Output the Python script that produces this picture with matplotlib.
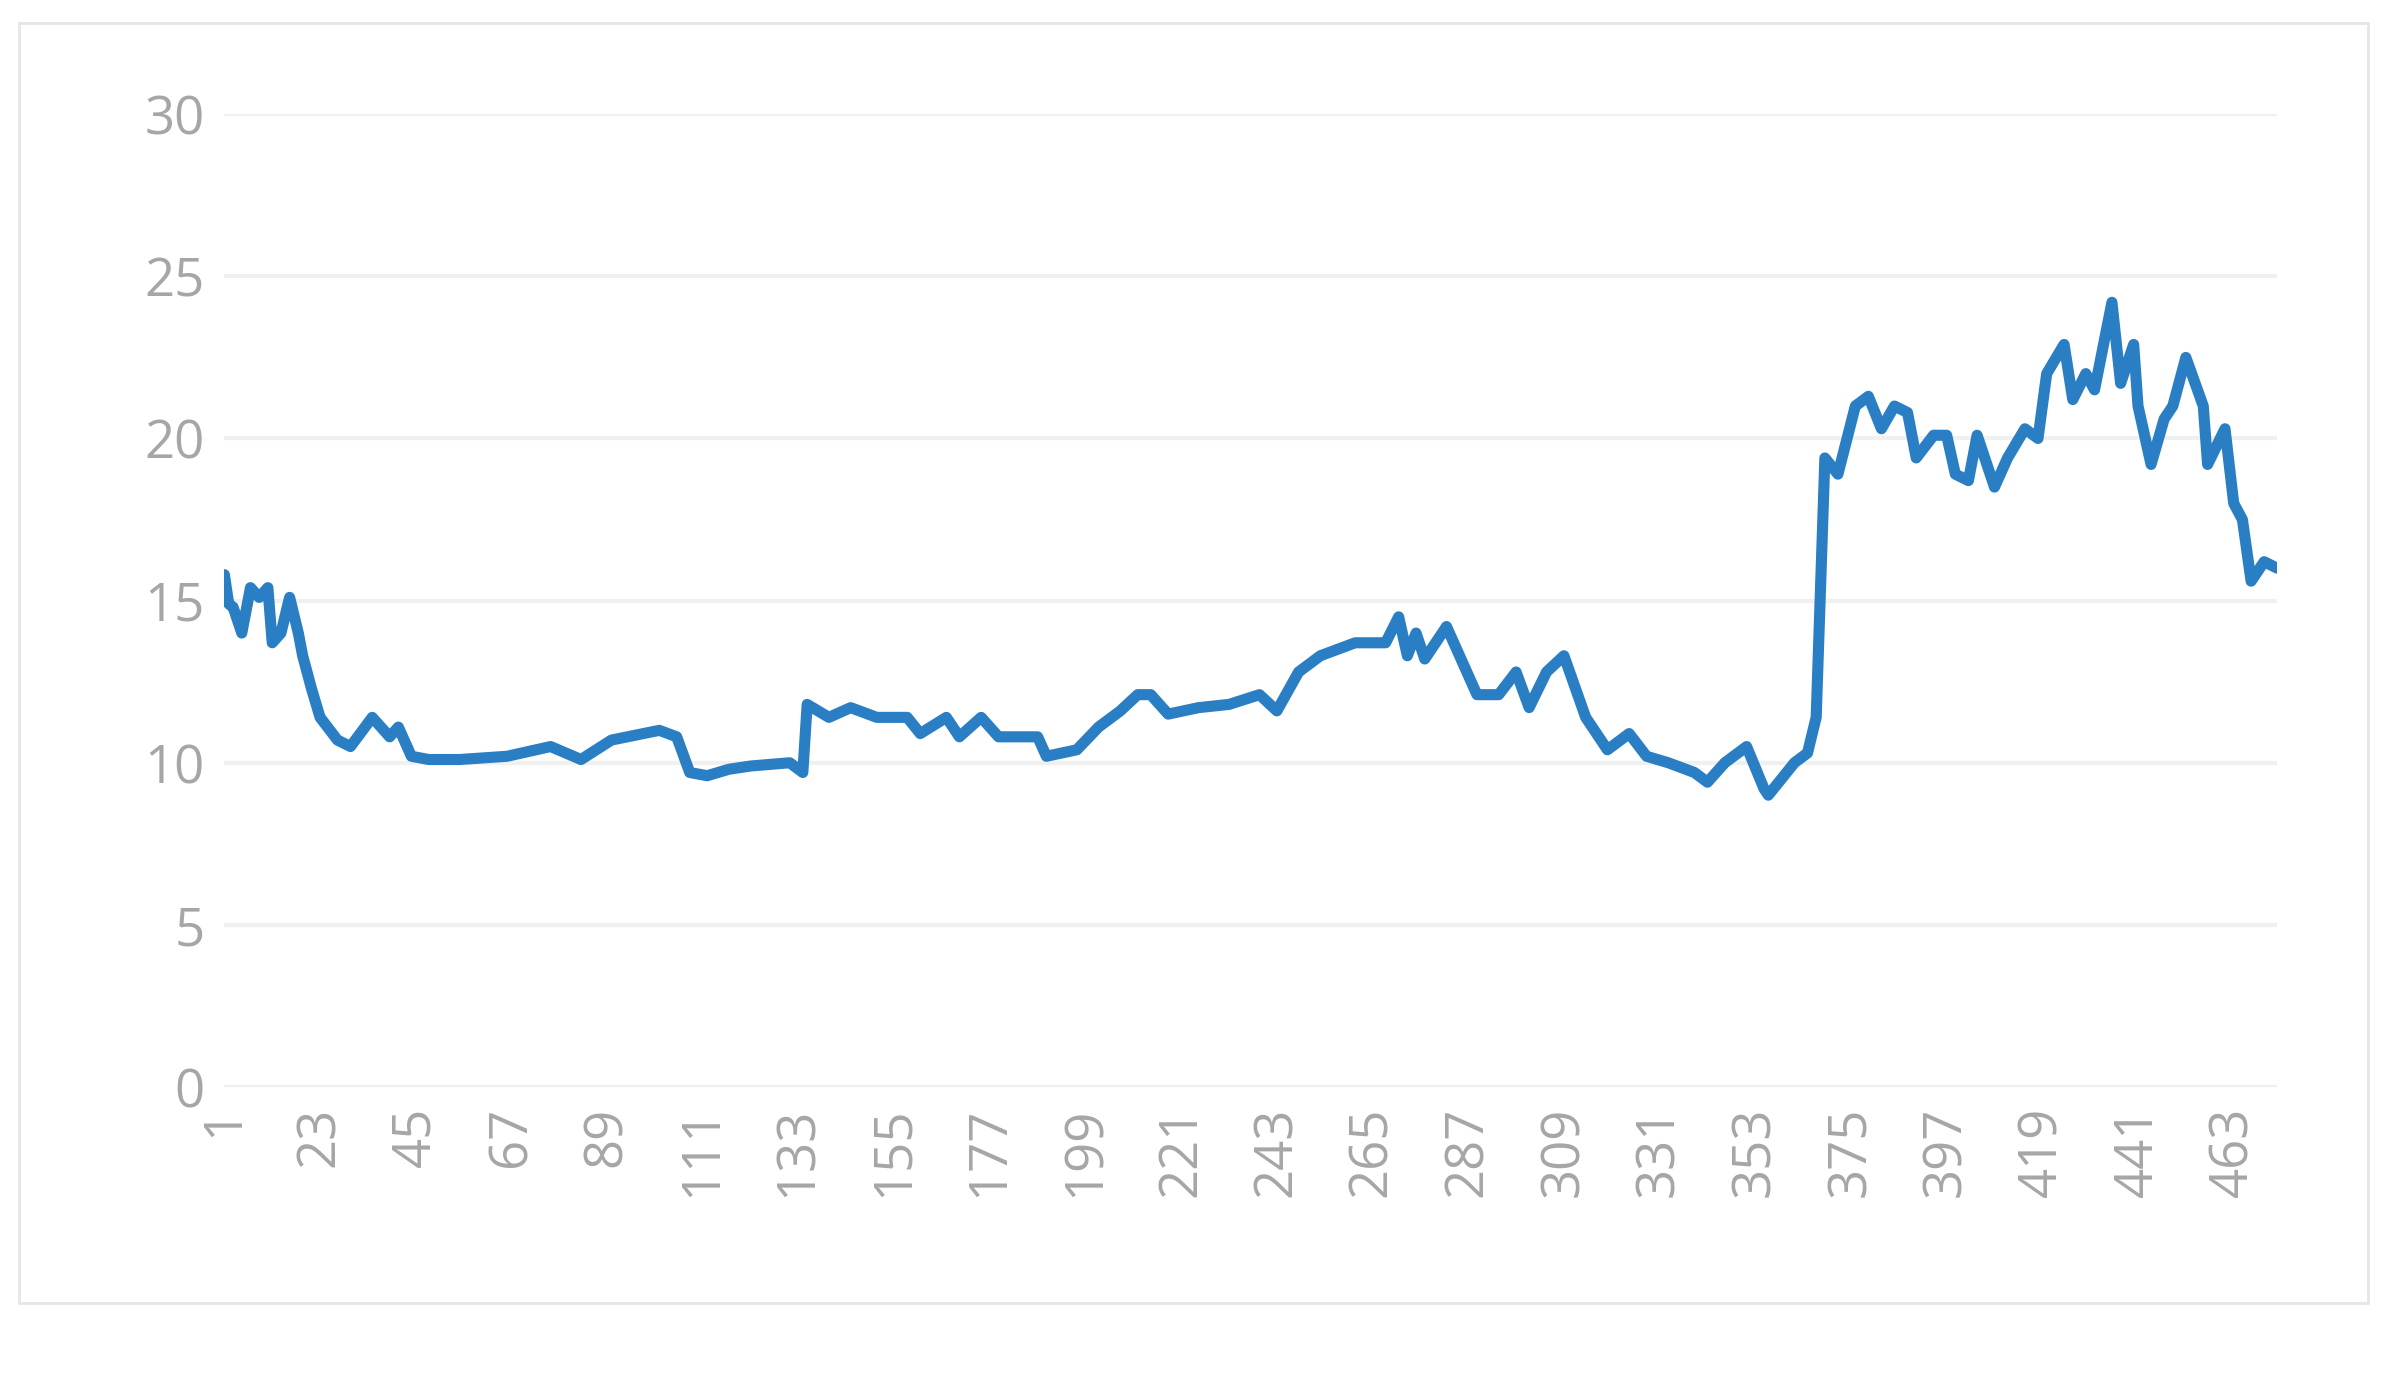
import matplotlib

matplotlib.use("Agg")
import matplotlib.pyplot as plt
from matplotlib.patches import Rectangle

# breakpoints (index, value)
idx = [1, 2, 3, 5, 7, 9, 11, 12, 14, 16, 18, 19, 21, 23, 27, 30, 35, 39, 41, 44,
       48, 55, 66, 76, 83, 90, 101, 105, 108, 112, 117, 122, 131, 134, 135, 140,
       145, 151, 158, 161, 167, 170, 175, 179, 188, 190, 197, 202, 207, 211, 214,
       218, 225, 232, 239, 243, 248, 253, 261, 268, 271, 273, 275, 277, 282, 285,
       289, 294, 298, 301, 305, 309, 314, 319, 324, 328, 333, 339, 342, 346, 351,
       355, 356, 362, 365, 367, 369, 372, 376, 379, 382, 385, 388, 390, 394, 397,
       399, 402, 404, 408, 411, 415, 418, 420, 424, 426, 429, 431, 435, 437, 440,
       441, 444, 447, 449, 452, 456, 457, 461, 463, 465, 467, 470, 473]
vals = [15.8, 14.9, 14.8, 14.0, 15.4, 15.1, 15.4, 13.7, 14.0, 15.1, 14.0, 13.3,
        12.3, 11.4, 10.7, 10.5, 11.4, 10.8, 11.1, 10.2, 10.1, 10.1, 10.2, 10.5,
        10.1, 10.7, 11.0, 10.8, 9.7, 9.6, 9.8, 9.9, 10.0, 9.7, 11.8, 11.4, 11.7,
        11.4, 11.4, 10.9, 11.4, 10.8, 11.4, 10.8, 10.8, 10.2, 10.4, 11.1, 11.6,
        12.1, 12.1, 11.5, 11.7, 11.8, 12.1, 11.6, 12.8, 13.3, 13.7, 13.7, 14.5,
        13.3, 14.0, 13.2, 14.2, 13.3, 12.1, 12.1, 12.8, 11.7, 12.8, 13.3, 11.4,
        10.4, 10.9, 10.2, 10.0, 9.7, 9.4, 10.0, 10.5, 9.2, 9.0, 10.0, 10.3, 11.4,
        19.4, 18.9, 21.0, 21.3, 20.3, 21.0, 20.8, 19.4, 20.1, 20.1, 18.9, 18.7,
        20.1, 18.5, 19.4, 20.3, 20.0, 22.0, 22.9, 21.2, 22.0, 21.5, 24.2, 21.7,
        22.9, 21.0, 19.2, 20.6, 21.0, 22.5, 21.0, 19.2, 20.3, 18.0, 17.5, 15.6,
        16.2, 16.0]
xticks = list(range(1, 464, 22))
yticks = [0, 5, 10, 15, 20, 25, 30]

GREY = "#a6a6a6"
FONT = ["Open Sans", "DejaVu Sans"]

fig = plt.figure(figsize=(23.87, 13.76), dpi=100)
fig.patches.append(Rectangle((0.008, 0.053), 0.984, 0.93, transform=fig.transFigure,
                             fill=False, edgecolor="#e6e6e6", lw=2))
ax = fig.add_axes([0.094, 0.21, 0.86, 0.707])
ax.plot(idx, vals, color="#2a7fc4", lw=8, solid_joinstyle="round", solid_capstyle="round")
ax.set_xlim(1, 473)
ax.set_ylim(0, 30)
ax.set_yticks(yticks)
ax.set_xticks(xticks)
ax.set_xticklabels([str(t) for t in xticks], rotation=90, family=FONT, fontsize=38, color=GREY)
ax.set_yticklabels([str(t) for t in yticks], family=FONT, fontsize=38, color=GREY)
ax.tick_params(length=0, pad=14)
ax.grid(axis="y", color="#f0f0f0", lw=3)
ax.set_axisbelow(True)
for s in ax.spines.values():
    s.set_visible(False)

fig.savefig("out.png")
